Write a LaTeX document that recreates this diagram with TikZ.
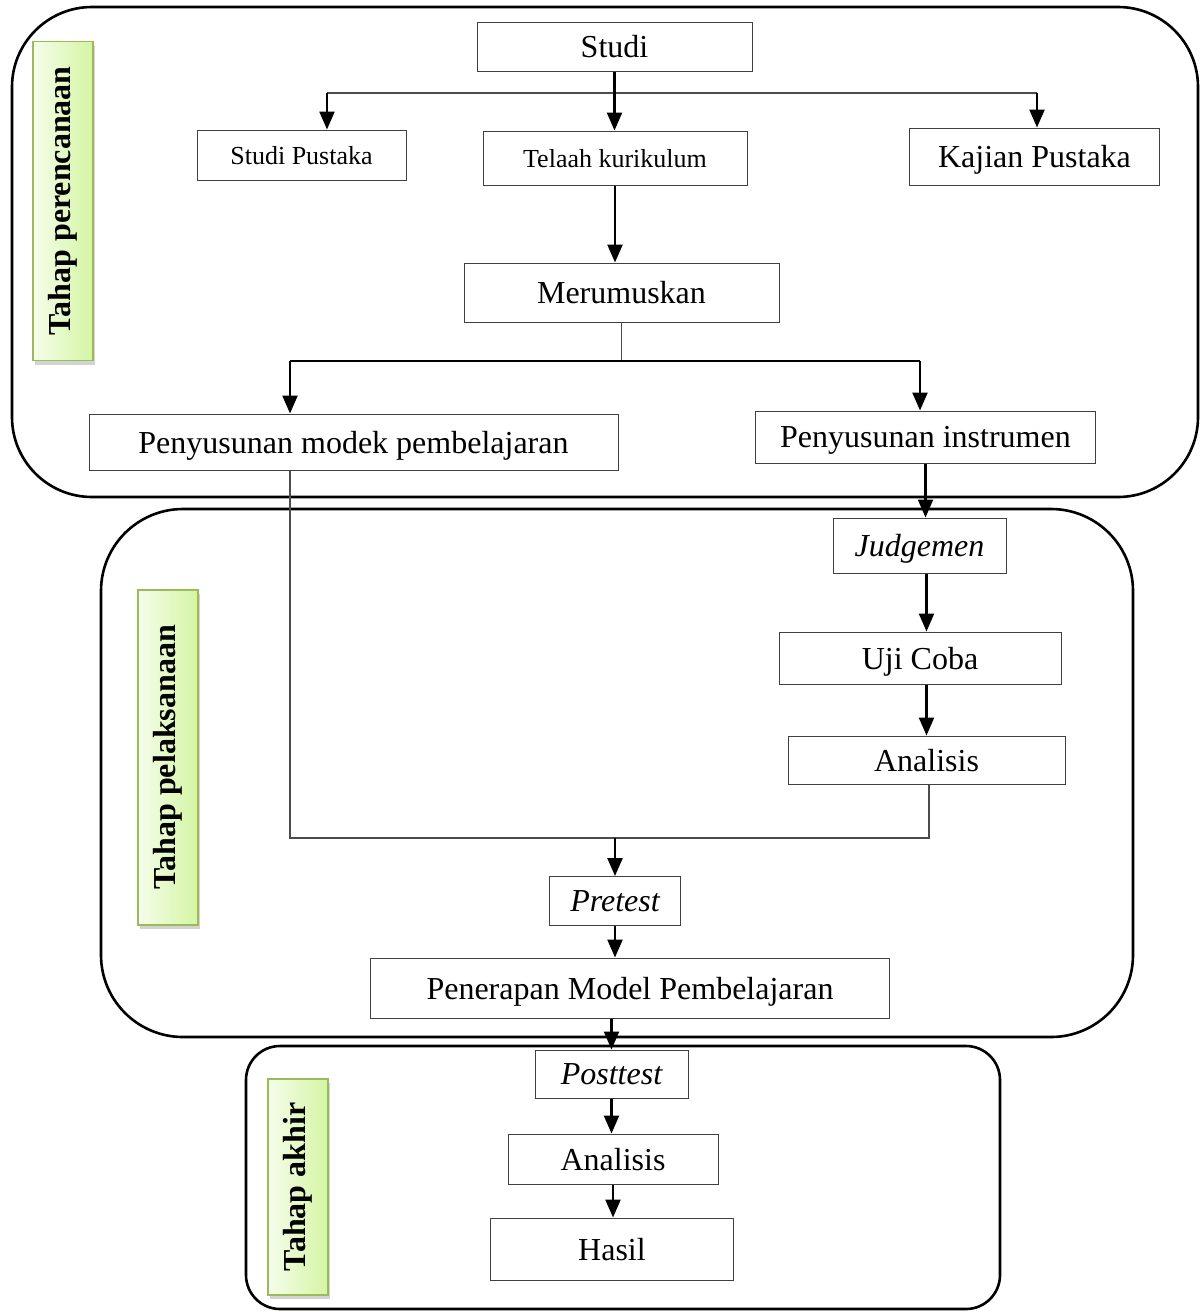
\documentclass[tikz,border=0pt]{standalone}
\usepackage{fontspec}
\setmainfont{Liberation Serif}
\usetikzlibrary{arrows.meta,shadows}
\definecolor{lblborder}{HTML}{9BBB59}
\definecolor{lbllight}{HTML}{F5FDEB}
\definecolor{lbldark}{HTML}{D4F5A3}
\begin{document}
\begin{tikzpicture}[x=1pt,y=-1pt,
  stepbox/.style={draw=black!75,line width=1pt,fill=white,inner sep=0pt,text depth=0pt,font=\fontsize{32}{36}\selectfont},
  smallbox/.style={stepbox,font=\fontsize{26}{30}\selectfont},
  phase/.style={draw=black,line width=2.6pt,rounded corners=#1},
  lbl/.style={draw=lblborder,line width=1.6pt,left color=lbllight,right color=lbldark,rotate=90,inner sep=0pt,
    font=\fontsize{32}{36}\selectfont\bfseries,
    drop shadow={opacity=0.35,shadow xshift=2pt,shadow yshift=-4pt}},
  arr/.style={line width=2.4pt,-{Triangle[length=18pt,width=15pt]}},
  thinline/.style={line width=1.3pt,draw=black!70},
]
\useasboundingbox (0,0) rectangle (1201,1312);

% phase frames
\draw[phase=80pt] (12,7) rectangle (1198,497);
\draw[phase=82pt] (101,509) rectangle (1133,1037);
\draw[phase=34pt] (246,1046) rectangle (1000,1309);

% phase labels
\node[lbl,minimum width=319pt,minimum height=60pt] (l1) at (63,201) {Tahap perencanaan};
\node[lbl,minimum width=335pt,minimum height=60pt] (l2) at (168,757.5) {Tahap pelaksanaan};
\node[lbl,minimum width=216pt,minimum height=60pt] (l3) at (298,1187) {Tahap akhir};

% steps
\node[stepbox,minimum width=275pt,minimum height=49pt] (studi) at (614.5,46.5) {Studi};
\node[smallbox,minimum width=209pt,minimum height=50pt] (sp) at (301.5,155) {Studi Pustaka};
\node[smallbox,minimum width=264pt,minimum height=54pt] (tk) at (615,158) {Telaah kurikulum};
\node[stepbox,minimum width=250pt,minimum height=57pt] (kp) at (1034.5,156.5) {Kajian Pustaka};
\node[stepbox,minimum width=315pt,minimum height=59pt] (mr) at (621.5,292.5) {Merumuskan};
\node[stepbox,minimum width=529pt,minimum height=56pt] (pm) at (353.5,442) {Penyusunan modek pembelajaran};
\node[stepbox,minimum width=340pt,minimum height=52pt] (pi) at (925.5,437) {Penyusunan instrumen};
\node[stepbox,minimum width=173pt,minimum height=55pt] (jg) at (919.5,545.5) {\itshape Judgemen};
\node[stepbox,minimum width=282pt,minimum height=52pt] (uc) at (920,658) {Uji Coba};
\node[stepbox,minimum width=277pt,minimum height=48pt] (an1) at (926.5,760) {Analisis};
\node[stepbox,minimum width=131pt,minimum height=49pt] (pre) at (615,901) {\itshape Pretest};
\node[stepbox,minimum width=519pt,minimum height=60pt] (pen) at (630,988) {Penerapan Model Pembelajaran};
\node[stepbox,minimum width=153pt,minimum height=48pt] (post) at (611.5,1074) {\itshape Posttest};
\node[stepbox,minimum width=210pt,minimum height=50pt] (an2) at (613,1159) {Analisis};
\node[stepbox,minimum width=243pt,minimum height=62pt] (hs) at (612,1249) {Hasil};

% connectors
\coordinate (b1) at (327,93);
\coordinate (b2) at (1037,93);
\draw[thinline] (b1) -- (b2);
\draw[arr] (b1) -- (b1 |- sp.north);
\draw[arr] (b2) -- (b2 |- kp.north);
\draw[arr] (studi.south) -- (studi.south |- tk.north);
\draw[arr] (tk.south) -- (tk.south |- mr.north);

\coordinate (c1) at (290,361);
\coordinate (c2) at (920,361);
\draw[thinline] (mr.south) -- (mr.south |- c1);
\draw[line width=1.6pt] (c1) -- (c2);
\draw[arr] (c1) -- (c1 |- pm.north);
\draw[arr] (c2) -- (c2 |- pi.north);

\draw[arr] (pi.south) -- (pi.south |- jg.north);
\draw[arr] (jg.south -| an1.north) -- (uc.north -| an1.north);
\draw[arr] (uc.south -| an1.north) -- (an1.north);

\coordinate (d1) at (290,838);
\coordinate (d2) at (929,838);
\draw[thinline] (pm.south -| d1) -- (d1) -- (d2) -- (d2 |- an1.south);
\draw[arr] (pre.north |- d1) -- (pre.north);
\draw[arr] (pre.south) -- (pre.south |- pen.north);
\draw[arr] (post.north |- pen.south) -- (post.north);
\draw[arr] (post.south) -- (post.south |- an2.north);
\draw[arr] (an2.south) -- (an2.south |- hs.north);
\end{tikzpicture}
\end{document}
